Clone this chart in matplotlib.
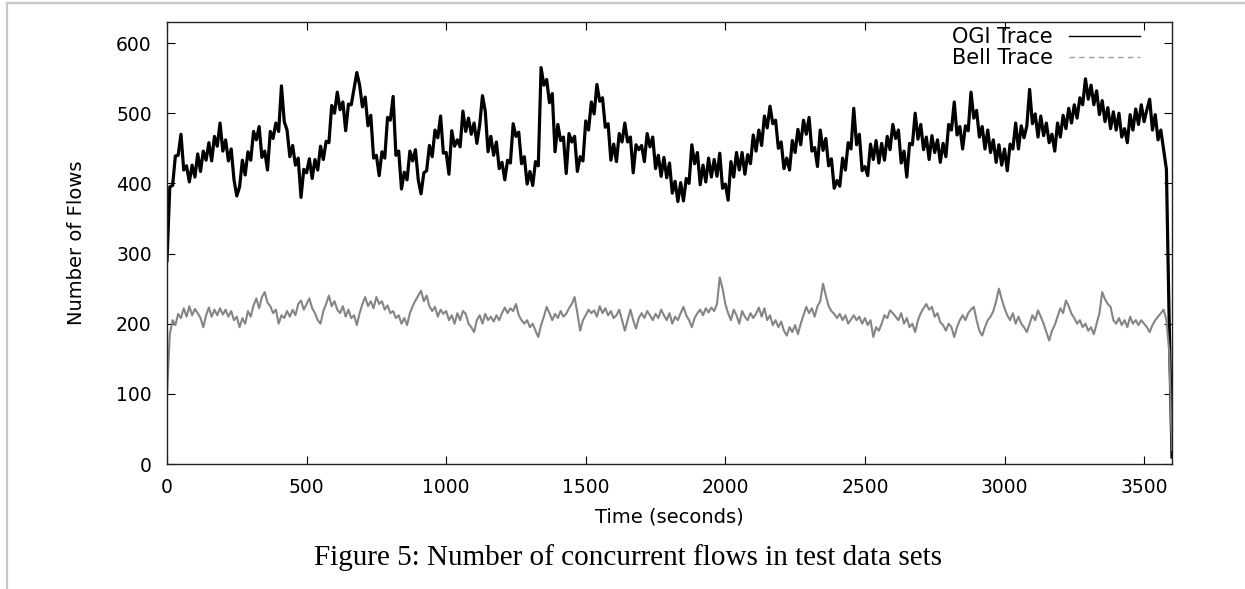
import numpy as np
import matplotlib
matplotlib.use("Agg")
import matplotlib.pyplot as plt
from matplotlib.lines import Line2D

# ---- data (sampled every 10 s, 0 .. 3600 s) ----
time_step = 10
ogi_trace = [
    290, 395, 397, 439, 440, 470, 419, 425, 402, 426,
    409, 442, 417, 446, 433, 458, 432, 467, 453, 486,
    446, 462, 432, 449, 405, 382, 395, 433, 412, 445,
    433, 474, 462, 481, 437, 446, 419, 474, 464, 486,
    474, 539, 488, 476, 438, 454, 426, 436, 380, 420,
    415, 435, 407, 434, 419, 453, 434, 460, 458, 511,
    500, 530, 505, 516, 475, 513, 512, 535, 558, 540,
    509, 523, 482, 497, 436, 440, 411, 445, 436, 494,
    490, 524, 440, 446, 392, 416, 405, 446, 432, 448,
    405, 385, 415, 418, 454, 438, 476, 465, 496, 443,
    444, 413, 475, 453, 462, 452, 503, 474, 493, 470,
    486, 457, 483, 525, 503, 445, 467, 440, 459, 421,
    430, 405, 433, 429, 485, 467, 473, 428, 438, 399,
    417, 397, 431, 425, 565, 540, 548, 515, 528, 445,
    484, 461, 466, 414, 471, 459, 467, 417, 438, 432,
    489, 476, 516, 499, 541, 517, 522, 480, 485, 433,
    456, 431, 471, 459, 486, 459, 466, 415, 455, 448,
    454, 431, 471, 452, 466, 421, 440, 410, 437, 408,
    429, 386, 403, 374, 401, 375, 407, 400, 455, 428,
    444, 398, 426, 402, 436, 409, 434, 410, 443, 393,
    399, 376, 431, 409, 444, 419, 444, 413, 441, 428,
    469, 446, 476, 454, 496, 479, 510, 485, 490, 450,
    459, 421, 436, 419, 461, 444, 477, 455, 490, 470,
    494, 446, 451, 424, 476, 447, 464, 425, 435, 393,
    404, 396, 436, 419, 458, 449, 507, 455, 470, 418,
    424, 411, 456, 434, 461, 429, 457, 433, 467, 448,
    484, 464, 476, 429, 446, 409, 457, 455, 500, 463,
    484, 448, 466, 434, 468, 444, 462, 430, 457, 438,
    484, 476, 516, 469, 481, 449, 482, 475, 530, 493,
    504, 466, 481, 449, 476, 444, 462, 430, 455, 426,
    449, 418, 456, 449, 486, 449, 482, 465, 482, 534,
    485, 499, 466, 496, 468, 486, 458, 470, 446, 486,
    466, 497, 478, 507, 486, 512, 493, 522, 512, 549,
    520, 540, 512, 532, 498, 518, 488, 508, 478, 502,
    476, 500, 466, 478, 458, 498, 476, 506, 484, 512,
    488, 505, 520, 476, 498, 462, 476, 448, 420, 200,
    10,
]
bell_trace = [
    100, 185, 205, 198, 214, 208, 222, 210, 225, 212,
    221, 215, 208, 195, 212, 223, 210, 220, 212, 222,
    213, 220, 210, 218, 205, 210, 195, 208, 200, 218,
    210, 226, 236, 222, 238, 245, 230, 225, 215, 220,
    200, 212, 208, 218, 210, 220, 212, 228, 233, 220,
    228, 236, 222, 215, 205, 200, 218, 228, 240, 225,
    232, 220, 215, 225, 210, 220, 208, 212, 198, 215,
    228, 238, 225, 232, 222, 238, 228, 232, 220, 226,
    215, 218, 208, 212, 200, 208, 198, 215, 225, 233,
    240, 247, 232, 240, 225, 218, 224, 210, 220, 214,
    218, 205, 212, 200, 215, 205, 218, 214, 200, 195,
    188, 205, 212, 200, 214, 205, 210, 203, 212, 205,
    215, 223, 215, 222, 218, 228, 212, 205, 200, 205,
    195, 200, 190, 181, 198, 210, 224, 215, 205, 214,
    208, 218, 210, 214, 222, 228, 238, 215, 190, 205,
    212, 220, 215, 219, 210, 225, 215, 222, 212, 218,
    208, 212, 220, 205, 190, 205, 220, 205, 193, 208,
    215, 208, 218, 212, 205, 214, 208, 220, 212, 205,
    215, 200, 210, 205, 215, 224, 212, 205, 195, 208,
    215, 220, 212, 222, 216, 223, 218, 228, 266, 250,
    228, 215, 205, 220, 212, 200, 218, 210, 205, 215,
    208, 214, 223, 210, 222, 205, 212, 198, 205, 195,
    203, 190, 183, 195, 188, 198, 185, 200, 212, 224,
    215, 222, 210, 225, 232, 257, 240, 225, 218, 214,
    208, 214, 205, 212, 200, 206, 212, 205, 210, 200,
    208, 198, 205, 181, 195, 190, 200, 212, 208, 219,
    215, 210, 205, 215, 200, 208, 195, 200, 188, 205,
    215, 222, 228, 220, 224, 210, 215, 202, 198, 190,
    200, 195, 181, 195, 205, 212, 205, 215, 220, 224,
    205, 190, 183, 195, 205, 210, 218, 232, 250, 235,
    222, 212, 205, 215, 200, 210, 200, 195, 188, 200,
    212, 205, 219, 210, 200, 188, 176, 190, 198, 210,
    222, 215, 233, 225, 214, 208, 200, 205, 195, 200,
    190, 195, 185, 200, 215, 245, 235, 228, 224, 205,
    200, 208, 198, 205, 195, 210, 200, 205, 198, 205,
    200, 195, 188, 198, 205, 210, 215, 220, 205, 160,
    20,
]
series_labels = ["OGI Trace", "Bell Trace"]
x_ticks = [0, 500, 1000, 1500, 2000, 2500, 3000, 3500]
y_ticks = [0, 100, 200, 300, 400, 500, 600]
x_label = "Time (seconds)"
y_label = "Number of Flows"
caption = "Figure 5: Number of concurrent flows in test data sets"

times = np.arange(len(ogi_trace)) * time_step

# ---- figure ----
W, H = 1245, 589
fig = plt.figure(figsize=(W / 100, H / 100), dpi=100)
plt.rcParams['font.family'] = ['DejaVu Sans']

ax = fig.add_axes([167 / W, 1 - 464 / H, (1172 - 167) / W, (464 - 22) / H])
ax.plot(times, ogi_trace, color='black', lw=2.3, label=series_labels[0])
ax.plot(times, bell_trace, color='#858585', lw=1.5, label=series_labels[1])

ax.set_xlim(0, 3600)
ax.set_ylim(0, 630)
ax.set_xticks(x_ticks)
ax.set_yticks(y_ticks)
ax.tick_params(direction='in', length=6, width=0.8, top=True, right=True,
               labelsize=13.5, colors='black')
ax.tick_params(axis='x', pad=10)
ax.tick_params(axis='y', pad=11)
for s in ax.spines.values():
    s.set_linewidth(1.0)
    s.set_color('#222222')

ax.set_xlabel(x_label, fontsize=14, va='center')
ax.xaxis.set_label_coords(0.5, -(516.7 - 464) / (464 - 22))
ax.set_ylabel(y_label, fontsize=14, va='center')
ax.yaxis.set_label_coords((76 - 167) / (1172 - 167), 0.5)

leg = ax.legend(loc='upper right', bbox_to_anchor=(1140 / W, 1 - 27 / H),
                bbox_transform=fig.transFigure, frameon=False, fontsize=15,
                markerfirst=False, handlelength=3.4, handletextpad=0.8,
                labelspacing=0.05, borderpad=0, borderaxespad=0)
leg_lines = leg.get_lines()
leg_lines[0].set_linewidth(1.0)
leg_lines[1].set_linestyle((0, (4, 3)))
leg_lines[1].set_color('#a0a0a0')
leg_lines[1].set_linewidth(1.0)

fig.text(627.5 / W, 1 - 558 / H, caption, ha='center', va='center',
         fontsize=21, family=['Liberation Serif', 'DejaVu Serif'])

# page frame lines
fig.add_artist(Line2D([7 / W, 1], [1 - 3 / H, 1 - 3 / H], color='#c8c8c8', lw=1.6,
                      transform=fig.transFigure))
fig.add_artist(Line2D([7 / W, 7 / W], [0, 1 - 3 / H], color='#c8c8c8', lw=1.6,
                      transform=fig.transFigure))

fig.savefig("out.png", dpi=100)
